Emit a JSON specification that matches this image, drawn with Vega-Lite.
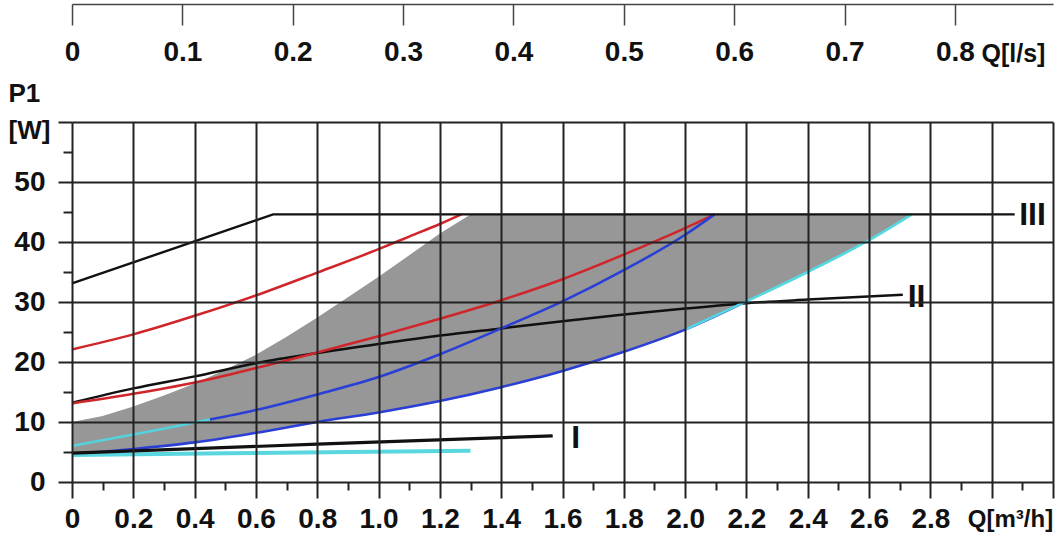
{
  "$schema": "https://vega.github.io/schema/vega-lite/v6.json",
  "width": 981,
  "height": 360,
  "autosize": {"type": "none"},
  "padding": {"left": 72, "top": 122, "right": 3, "bottom": 57},
  "background": "#ffffff",
  "config": {
    "view": {"stroke": null},
    "font": "Liberation Sans, Arial, sans-serif",
    "axis": {"labelColor": "#111111", "titleColor": "#111111", "labelFontWeight": "bold", "titleFontWeight": "bold", "tickColor": "#222222", "gridColor": "#222222", "domainColor": "#222222"}
  },
  "datasets": {
    "grey": [
      {"q": 0, "lo": 4.6, "hi": 10.0},
      {"q": 0.1, "lo": 5.0, "hi": 11.0},
      {"q": 0.2, "lo": 5.5, "hi": 12.6},
      {"q": 0.3, "lo": 6.0, "hi": 14.4},
      {"q": 0.4, "lo": 6.6, "hi": 16.4},
      {"q": 0.5, "lo": 7.4, "hi": 18.7},
      {"q": 0.6, "lo": 8.2, "hi": 21.2},
      {"q": 0.7, "lo": 9.1, "hi": 24.2},
      {"q": 0.8, "lo": 10.0, "hi": 27.4},
      {"q": 0.9, "lo": 10.8, "hi": 30.8},
      {"q": 1.0, "lo": 11.6, "hi": 34.2},
      {"q": 1.1, "lo": 12.5, "hi": 37.8},
      {"q": 1.2, "lo": 13.5, "hi": 41.4},
      {"q": 1.3, "lo": 14.6, "hi": 44.6},
      {"q": 1.4, "lo": 15.8, "hi": 44.6},
      {"q": 1.5, "lo": 17.1, "hi": 44.6},
      {"q": 1.6, "lo": 18.5, "hi": 44.6},
      {"q": 1.7, "lo": 20.0, "hi": 44.6},
      {"q": 1.8, "lo": 21.7, "hi": 44.6},
      {"q": 1.9, "lo": 23.5, "hi": 44.6},
      {"q": 2.0, "lo": 25.4, "hi": 44.6},
      {"q": 2.1, "lo": 27.6, "hi": 44.6},
      {"q": 2.2, "lo": 30.1, "hi": 44.6},
      {"q": 2.3, "lo": 32.5, "hi": 44.6},
      {"q": 2.4, "lo": 35.0, "hi": 44.6},
      {"q": 2.5, "lo": 37.6, "hi": 44.6},
      {"q": 2.6, "lo": 40.3, "hi": 44.6},
      {"q": 2.7, "lo": 43.2, "hi": 44.6},
      {"q": 2.74, "lo": 44.6, "hi": 44.6}
    ],
    "curves": [
      {"s": "II", "q": 0, "p": 13.2}, {"s": "II", "q": 0.2, "p": 15.6}, {"s": "II", "q": 0.4, "p": 17.6},
      {"s": "II", "q": 0.6, "p": 19.8}, {"s": "II", "q": 0.8, "p": 21.5}, {"s": "II", "q": 1.0, "p": 23.0},
      {"s": "II", "q": 1.2, "p": 24.4}, {"s": "II", "q": 1.4, "p": 25.6}, {"s": "II", "q": 1.6, "p": 26.8},
      {"s": "II", "q": 1.8, "p": 27.9}, {"s": "II", "q": 2.0, "p": 28.9}, {"s": "II", "q": 2.2, "p": 29.8},
      {"s": "II", "q": 2.4, "p": 30.4}, {"s": "II", "q": 2.71, "p": 31.2},
      {"s": "red_hi", "q": 0, "p": 22.1}, {"s": "red_hi", "q": 0.2, "p": 24.6}, {"s": "red_hi", "q": 0.4, "p": 27.7},
      {"s": "red_hi", "q": 0.6, "p": 31.1}, {"s": "red_hi", "q": 0.8, "p": 34.9}, {"s": "red_hi", "q": 1.0, "p": 38.8},
      {"s": "red_hi", "q": 1.1, "p": 40.9}, {"s": "red_hi", "q": 1.2, "p": 43.0}, {"s": "red_hi", "q": 1.27, "p": 44.6},
      {"s": "red_lo", "q": 0, "p": 13.1}, {"s": "red_lo", "q": 0.2, "p": 14.7}, {"s": "red_lo", "q": 0.4, "p": 16.6},
      {"s": "red_lo", "q": 0.6, "p": 19.0}, {"s": "red_lo", "q": 0.8, "p": 21.6}, {"s": "red_lo", "q": 1.0, "p": 24.3},
      {"s": "red_lo", "q": 1.2, "p": 27.2}, {"s": "red_lo", "q": 1.4, "p": 30.3}, {"s": "red_lo", "q": 1.6, "p": 33.8},
      {"s": "red_lo", "q": 1.8, "p": 37.9}, {"s": "red_lo", "q": 2.0, "p": 42.3}, {"s": "red_lo", "q": 2.096, "p": 44.6},
      {"s": "cyan_hi", "q": 0, "p": 6.0}, {"s": "cyan_hi", "q": 0.2, "p": 7.9}, {"s": "cyan_hi", "q": 0.4, "p": 9.9},
      {"s": "cyan_hi", "q": 0.45, "p": 10.4},
      {"s": "blue_hi", "q": 0.45, "p": 10.4}, {"s": "blue_hi", "q": 0.6, "p": 12.0}, {"s": "blue_hi", "q": 0.8, "p": 14.6},
      {"s": "blue_hi", "q": 1.0, "p": 17.5}, {"s": "blue_hi", "q": 1.2, "p": 21.3}, {"s": "blue_hi", "q": 1.4, "p": 25.6},
      {"s": "blue_hi", "q": 1.6, "p": 30.1}, {"s": "blue_hi", "q": 1.8, "p": 35.3}, {"s": "blue_hi", "q": 2.0, "p": 41.2},
      {"s": "blue_hi", "q": 2.096, "p": 44.6},
      {"s": "blue_lo", "q": 0, "p": 4.6}, {"s": "blue_lo", "q": 0.2, "p": 5.5}, {"s": "blue_lo", "q": 0.4, "p": 6.6},
      {"s": "blue_lo", "q": 0.6, "p": 8.2}, {"s": "blue_lo", "q": 0.8, "p": 10.0}, {"s": "blue_lo", "q": 1.0, "p": 11.6},
      {"s": "blue_lo", "q": 1.2, "p": 13.5}, {"s": "blue_lo", "q": 1.4, "p": 15.8}, {"s": "blue_lo", "q": 1.6, "p": 18.5},
      {"s": "blue_lo", "q": 1.8, "p": 21.7}, {"s": "blue_lo", "q": 2.0, "p": 25.4}, {"s": "blue_lo", "q": 2.2, "p": 30.1},
      {"s": "cyan_lo", "q": 2.0, "p": 25.4}, {"s": "cyan_lo", "q": 2.2, "p": 30.1}, {"s": "cyan_lo", "q": 2.4, "p": 35.0},
      {"s": "cyan_lo", "q": 2.6, "p": 40.3}, {"s": "cyan_lo", "q": 2.74, "p": 44.6}
    ],
    "straight": [
      {"s": "cyan_I", "q": 0, "p": 4.5}, {"s": "cyan_I", "q": 0.5, "p": 4.8}, {"s": "cyan_I", "q": 1.3, "p": 5.2},
      {"s": "I", "q": 0, "p": 4.8}, {"s": "I", "q": 0.8, "p": 6.3}, {"s": "I", "q": 1.568, "p": 7.7},
      {"s": "III", "q": 0, "p": 33.1}, {"s": "III", "q": 0.656, "p": 44.6}, {"s": "III", "q": 3.075, "p": 44.6}
    ],
    "labels": [
      {"q": 3.133, "p": 44.5, "t": "III"},
      {"q": 2.755, "p": 30.9, "t": "II"},
      {"q": 1.643, "p": 7.4, "t": "I"}
    ]
  },
  "layer": [
    {
      "layer": [
        {
          "data": {"name": "grey"},
          "mark": {"type": "area", "color": "#979797", "opacity": 1},
          "encoding": {
            "x": {
              "field": "q", "type": "quantitative",
              "scale": {"domain": [0, 3.2], "nice": false, "zero": false},
              "axis": {
                "orient": "bottom",
                "values": [0, 0.2, 0.4, 0.6, 0.8, 1.0, 1.2, 1.4, 1.6, 1.8, 2.0, 2.2, 2.4, 2.6, 2.8, 3.0, 3.2],
                "grid": true, "gridWidth": 2, "tickSize": 16, "tickWidth": 2, "domain": false,
                "labelExpr": "datum.value == 0 ? '0' : (datum.value > 2.9 ? '' : format(datum.value, '.1f'))",
                "labelFontSize": 28, "labelPadding": 21, "labelBaseline": "middle",
                "labelFlush": false, "labelOverlap": false, "labelBound": false,
                "title": "Q[m³/h]", "titleFontSize": 24, "titleX": 938, "titleY": 37,
                "titleBaseline": "middle", "titleAlign": "center", "zindex": 1
              }
            },
            "y": {
              "field": "lo", "type": "quantitative",
              "scale": {"domain": [0, 60], "nice": false},
              "axis": {
                "orient": "left",
                "values": [0, 10, 20, 30, 40, 50, 60],
                "grid": true, "gridWidth": 2, "tickSize": 14, "tickWidth": 2, "domain": false,
                "labelExpr": "datum.value == 60 ? '' : datum.label",
                "labelFontSize": 28, "labelPadding": 13, "labelFlush": false, "labelOverlap": false, "labelBound": false,
                "title": ["P1", "[W]"], "titleFontSize": 26, "titleAngle": 0, "titleAlign": "left",
                "titleBaseline": "alphabetic", "titleX": -64, "titleY": -21, "titleLineHeight": 37, "zindex": 1
              }
            },
            "y2": {"field": "hi"}
          }
        },
        {
          "data": {"name": "curves"},
          "mark": {"type": "line", "interpolate": "monotone"},
          "encoding": {
            "x": {
              "field": "q", "type": "quantitative",
              "axis": {
                "orient": "bottom",
                "values": [0.1, 0.3, 0.5, 0.7, 0.9, 1.1, 1.3, 1.5, 1.7, 1.9, 2.1, 2.3, 2.5, 2.7, 2.9, 3.1],
                "grid": false, "tickSize": 8, "tickWidth": 2, "domain": false, "labels": false, "title": null
              }
            },
            "y": {
              "field": "p", "type": "quantitative",
              "axis": {
                "orient": "left",
                "values": [5, 15, 25, 35, 45, 55],
                "grid": false, "tickSize": 9, "tickWidth": 2, "domain": false, "labels": false, "title": null
              }
            },
            "color": {
              "field": "s", "type": "nominal", "legend": null,
              "scale": {"domain": ["II", "red_hi", "red_lo", "cyan_hi", "blue_hi", "blue_lo", "cyan_lo"],
                        "range": ["#111111", "#d0262b", "#d0262b", "#55d2de", "#2a3fd6", "#2a3fd6", "#55d8e2"]}
            },
            "strokeWidth": {
              "field": "s", "type": "nominal", "legend": null,
              "scale": {"domain": ["II", "red_hi", "red_lo", "cyan_hi", "blue_hi", "blue_lo", "cyan_lo"],
                        "range": [2.5, 2.6, 2.6, 2, 1.6, 1.6, 2.4]}
            }
          }
        },
        {
          "data": {"name": "straight"},
          "mark": {"type": "line", "interpolate": "linear"},
          "encoding": {
            "x": {"field": "q", "type": "quantitative", "axis": null},
            "y": {"field": "p", "type": "quantitative", "axis": null},
            "color": {
              "field": "s", "type": "nominal", "legend": null,
              "scale": {"domain": ["cyan_I", "I", "III"], "range": ["#5ad6e0", "#111111", "#111111"]}
            },
            "strokeWidth": {
              "field": "s", "type": "nominal", "legend": null,
              "scale": {"domain": ["cyan_I", "I", "III"], "range": [4, 2.4, 2.6]}
            }
          }
        },
        {
          "data": {"name": "labels"},
          "mark": {"type": "text", "fontSize": 32, "fontWeight": "bold", "align": "center", "baseline": "middle", "color": "#111111"},
          "encoding": {
            "x": {"field": "q", "type": "quantitative", "axis": null},
            "y": {"field": "p", "type": "quantitative", "axis": null},
            "text": {"field": "t"}
          }
        }
      ],
      "resolve": {"axis": {"x": "independent", "y": "independent"}, "scale": {"color": "independent", "strokeWidth": "independent"}}
    },
    {
      "data": {"values": [{"qls": 0}]},
      "mark": {"type": "point", "opacity": 0},
      "encoding": {
        "x": {
          "field": "qls", "type": "quantitative",
          "scale": {"domain": [0, 0.888889], "nice": false, "zero": false},
          "axis": {
            "orient": "top", "offset": 118,
            "values": [0, 0.1, 0.2, 0.3, 0.4, 0.5, 0.6, 0.7, 0.8],
            "grid": false, "tickSize": -21, "tickWidth": 1.5, "tickColor": "#444444",
            "domain": true, "domainWidth": 1.5, "domainColor": "#444444",
            "labelExpr": "datum.value == 0 ? '0' : format(datum.value, '.1f')",
            "labelFontSize": 28, "labelPadding": -27, "labelBaseline": "middle",
            "labelFlush": false, "labelOverlap": false, "labelBound": false,
            "title": "Q[l/s]", "titleFontSize": 25, "titleX": 941, "titleY": 49,
            "titleBaseline": "middle", "titleAlign": "center"
          }
        }
      }
    }
  ],
  "resolve": {"scale": {"x": "independent"}}
}
